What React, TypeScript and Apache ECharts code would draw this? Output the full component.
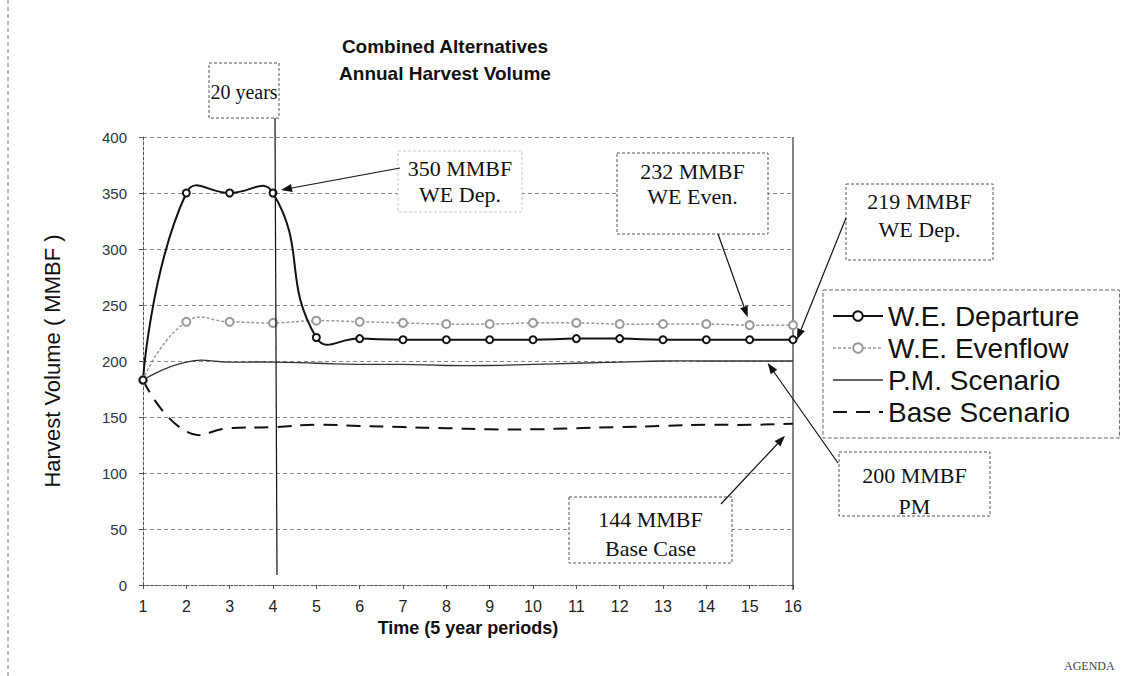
import React, { useEffect, useRef } from "react";
import * as echarts from "echarts";

const periods = ["1", "2", "3", "4", "5", "6", "7", "8", "9", "10", "11", "12", "13", "14", "15", "16"];
const weDeparture = [183, 350, 350, 350, 221, 220, 219, 219, 219, 219, 220, 220, 219, 219, 219, 219];
const weEvenflow = [183, 235, 235, 234, 236, 235, 234, 233, 233, 234, 234, 233, 233, 233, 232, 232];
const pmScenario = [183, 199, 199, 199, 198, 197, 197, 196, 196, 197, 198, 199, 200, 200, 200, 200];
const baseScenario = [183, 137, 140, 141, 143, 142, 141, 140, 139, 139, 140, 141, 142, 143, 143, 144];
const seriesNames = ["W.E. Departure", "W.E. Evenflow", "P.M. Scenario", "Base Scenario"];
const titleLines = ["Combined Alternatives", "Annual Harvest Volume"];

const SERIF = '"Liberation Serif", "Times New Roman", serif';
const SANS = '"Liberation Sans", Arial, sans-serif';

const lineStyles = [
  { color: "#111", width: 2, type: "solid" as any },
  { color: "#999", width: 1.5, type: [3, 2] as any },
  { color: "#333", width: 1.3, type: "solid" as any },
  { color: "#111", width: 2, type: [14, 9] as any },
];
const seriesValues = [weDeparture, weEvenflow, pmScenario, baseScenario];

function arrow(x1: number, y1: number, x2: number, y2: number, head = 11, w = 4) {
  const dx = x2 - x1, dy = y2 - y1;
  const L = Math.hypot(dx, dy);
  const ux = dx / L, uy = dy / L;
  const bx = x2 - ux * head, by = y2 - uy * head;
  return [
    { type: "line", z: 20, shape: { x1, y1, x2: bx, y2: by }, style: { stroke: "#111", lineWidth: 1.2 } },
    {
      type: "polygon", z: 20,
      shape: { points: [[x2, y2], [bx - uy * w, by + ux * w], [bx + uy * w, by - ux * w]] },
      style: { fill: "#111" },
    },
  ];
}

function box(x: number, y: number, w: number, h: number, lines: string[], lineYs: number[], size = 22, faint = false) {
  const els: any[] = [
    {
      type: "rect", z: 15,
      shape: { x, y, width: w, height: h },
      style: { fill: "#fff", stroke: faint ? "#c8c8c8" : "#555", lineWidth: 1, lineDash: [3, 2] },
    },
  ];
  lines.forEach((t, i) => {
    els.push({
      type: "text", z: 16,
      x: x + w / 2, y: lineYs[i],
      style: { text: t, font: `${size}px ${SERIF}`, fill: "#111", align: "center", verticalAlign: "middle" },
    });
  });
  return els;
}

export default function App() {
  const ref = useRef<HTMLDivElement>(null);
  useEffect(() => {
    if (!ref.current) return;
    const chart = echarts.init(ref.current, null, { renderer: "svg" });

    // Smooth curves drawn through the axis scales (uncapped bezier smoothing like the original)
    const curveSeries = seriesValues.map((vals, k) => ({
      type: "custom",
      name: "curve" + k,
      silent: true,
      z: 2 + (k < 2 ? 2 - k : 0),
      data: [[0, 0]],
      renderItem: (_p: any, api: any) => {
        const pts = vals.map((v, i) => api.coord([i, v]));
        const ls = lineStyles[k];
        return {
          type: "polyline",
          shape: { points: pts, smooth: 0.5 },
          style: {
            stroke: ls.color,
            lineWidth: ls.width,
            lineDash: Array.isArray(ls.type) ? ls.type : null,
            fill: null,
          },
        };
      },
    }));

    const markerSeries = seriesValues.map((vals, k) => ({
      name: seriesNames[k],
      type: "line",
      data: vals,
      z: k === 0 ? 8 : 6,
      symbol: k < 2 ? "emptyCircle" : "none",
      symbolSize: k === 0 ? 7 : 8,
      lineStyle: { ...lineStyles[k], opacity: 0 },
      itemStyle: { color: lineStyles[k].color, borderColor: lineStyles[k].color, borderWidth: k === 0 ? 1.5 : 1.2 },
    }));

    const legendData = seriesNames.map((n, k) => ({
      name: n,
      lineStyle: { ...lineStyles[k], opacity: 1 },
      itemStyle: k < 2 ? { color: lineStyles[k].color, opacity: 1 } : { opacity: 0 },
    }));

    const option: any = {
      animation: false,
      backgroundColor: "#fff",
      title: {
        text: titleLines.join("\n"),
        left: 440, top: 28, textAlign: "center",
        textStyle: { fontFamily: SANS, fontWeight: "bold", fontSize: 19, lineHeight: 27, color: "#111" },
      },
      grid: { left: 143, right: 328, top: 137, bottom: 91 },
      legend: {
        data: legendData,
        orient: "vertical",
        left: 823, top: 290,
        itemWidth: 50, itemHeight: 12, itemGap: 4,
        padding: [12, 40, 12, 9],
        borderColor: "#666", borderWidth: 1, borderType: "dashed",
        backgroundColor: "#fff",
        textStyle: { fontFamily: SANS, fontSize: 28, lineHeight: 27, color: "#111" },
      },
      xAxis: {
        type: "category",
        data: periods,
        boundaryGap: false,
        name: "Time (5 year periods)",
        nameLocation: "middle",
        nameGap: 33,
        nameTextStyle: { fontFamily: SANS, fontWeight: "bold", fontSize: 18, color: "#111" },
        axisLine: { lineStyle: { color: "#555", type: [2, 2] } },
        axisTick: { show: true, alignWithLabel: true, length: 4, lineStyle: { color: "#555" } },
        axisLabel: { fontFamily: SANS, fontSize: 16, color: "#222", margin: 13 },
        splitLine: { show: false },
      },
      yAxis: {
        type: "value",
        min: 0, max: 400, interval: 50,
        name: "Harvest Volume ( MMBF )",
        nameLocation: "middle",
        nameGap: 80,
        nameTextStyle: { fontFamily: SANS, fontSize: 22, color: "#111" },
        axisLine: { show: true, lineStyle: { color: "#555", type: [3, 2] } },
        axisTick: { show: true, length: 4, lineStyle: { color: "#555" } },
        axisLabel: { fontFamily: SANS, fontSize: 15, color: "#333", margin: 16 },
        splitLine: { show: true, lineStyle: { color: "#888", type: [4, 3], width: 1 } },
      },
      series: [...markerSeries, ...curveSeries],
    };
    chart.setOption(option);

    const px = (i: number, v: number) => chart.convertToPixel({ xAxisIndex: 0, yAxisIndex: 0 }, [i, v]) as number[];
    const top = px(0, 400), bottom = px(15, 0);
    const p20 = px(3, weDeparture[3]);
    const pEven = px(14, weEvenflow[14]);
    const pDep = px(15, weDeparture[15]);
    const pPM = px(14, pmScenario[14]);
    const pBase = px(15, baseScenario[15]);
    const base0 = px(3, 9);

    const graphic: any[] = [
      { type: "line", shape: { x1: 8, y1: 0, x2: 8, y2: 676 }, style: { stroke: "#777", lineWidth: 1, lineDash: [4, 3] } },
      { type: "line", z: 6, shape: { x1: bottom[0], y1: top[1], x2: bottom[0], y2: bottom[1] + 5 }, style: { stroke: "#333", lineWidth: 1.2 } },
      { type: "line", z: 10, shape: { x1: p20[0] + 2, y1: 118, x2: base0[0] + 4, y2: base0[1] }, style: { stroke: "#111", lineWidth: 1.2 } },
      ...box(209, 63, 70, 55, ["20 years"], [92], 20),
      ...box(398, 151, 124, 61, ["350 MMBF", "WE Dep."], [168, 194], 22, true),
      ...arrow(400, 168, p20[0] + 8, p20[1] - 3),
      ...box(617, 153, 151, 81, ["232 MMBF", "WE Even."], [171, 196], 22),
      ...arrow(718, 234, pEven[0] - 2, pEven[1] - 8),
      ...box(846, 184, 147, 76, ["219 MMBF", "WE Dep."], [201, 229], 22),
      ...arrow(846, 218, pDep[0] + 4, pDep[1]),
      ...box(839, 452, 151, 64, ["200 MMBF", "PM"], [475, 506], 22),
      ...arrow(838, 463, pPM[0] + 18, pPM[1] + 2),
      ...box(569, 497, 163, 66, ["144 MMBF", "Base Case"], [519, 548], 22),
      ...arrow(721, 504, pBase[0] - 8, pBase[1] + 12),
      {
        type: "text", x: 1064, y: 660,
        style: { text: "AGENDA", font: `12px ${SERIF}`, fill: "#444" },
      },
    ];
    chart.setOption({ graphic });

    return () => chart.dispose();
  }, []);
  return <div ref={ref} style={{ position: "fixed", left: 0, top: 0, width: 1121, height: 676 }} />;
}
